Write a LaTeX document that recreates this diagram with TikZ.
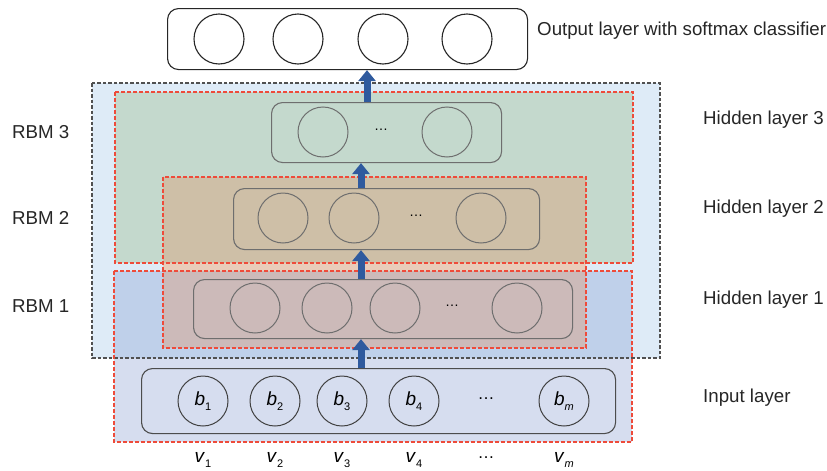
\documentclass[tikz,border=0pt]{standalone}
\usepackage{fontspec}
\setmainfont{Liberation Sans}
\usetikzlibrary{arrows.meta}
\definecolor{outerblue}{HTML}{DEEBF7}
\definecolor{rbmgreen}{HTML}{C4D9CD}
\definecolor{rbmtan}{HTML}{CEBFA7}
\definecolor{rbmpeach}{HTML}{E9CCBA}
\definecolor{rbmmauve}{HTML}{CCBAB9}
\definecolor{rbmblue}{HTML}{BFD0EA}
\definecolor{inpblue}{HTML}{D6DDEF}
\definecolor{reddash}{HTML}{EE4B3A}
\definecolor{graydash}{HTML}{505050}
\definecolor{arrowblue}{HTML}{2F5A9E}
\definecolor{arrowedge}{HTML}{5B7FBF}
\definecolor{boxgray}{HTML}{6E6E6E}
\tikzset{
  rbmframe/.style={draw=reddash, line width=1.1pt, dash pattern=on 4pt off 2pt},
  outerframe/.style={draw=graydash, line width=1.1pt, dash pattern=on 3.5pt off 2pt},
  layerbox/.style={draw=boxgray, line width=1.1pt, rounded corners=11pt, anchor=north west, inner sep=0pt},
  outbox/.style={draw=black!85, line width=1.1pt, rounded corners=11pt, anchor=north west, inner sep=0pt},
  neuron/.style={circle, draw=boxgray, line width=1pt, minimum size=50pt, inner sep=0pt},
  outneuron/.style={circle, draw=black!85, line width=1.1pt, minimum size=50pt, inner sep=0pt},
  inneuron/.style={circle, draw=black!75, line width=1pt, minimum size=50pt, inner sep=0pt, font=\fontsize{19}{20}\selectfont},
  dotsl/.style={font=\fontsize{14}{15}\selectfont, inner sep=0pt},
  vlab/.style={font=\fontsize{19}{20}\selectfont, inner sep=0pt},
  sidelab/.style={anchor=west, inner sep=0pt, font=\fontsize{18.7}{20}\selectfont, text=black!85},
  blockarrow/.style={draw=arrowblue, line width=7pt, -{Triangle[width=17pt,length=11pt]}}
}
\newcommand{\bsub}[2]{\textit{#1}\raisebox{-0.55ex}{\fontsize{11}{12}\selectfont #2}}
\begin{document}
\begin{tikzpicture}[x=1pt,y=-1pt]
\useasboundingbox (0,0) rectangle (827,471);
% region fills
\fill[outerblue] (92,83) rectangle (660,358);
\fill[rbmgreen] (115,92) rectangle (633,263);
\fill[inpblue] (114,358) rectangle (632,442);
\fill[rbmblue] (114,271) rectangle (632,358);
\fill[rbmtan] (163,177) rectangle (586,263);
\fill[rbmpeach] (163,263) rectangle (586,271);
\fill[rbmmauve] (163,271) rectangle (586,348);
% frames
\draw[outerframe] (92,83) rectangle (660,358);
\draw[rbmframe] (115,92) rectangle (633,263);
\draw[rbmframe] (114,271) rectangle (632,442);
\draw[rbmframe] (163,177) rectangle (586,348);

% output layer
\node[outbox, fill=white, minimum width=360pt, minimum height=61pt] (out) at (167,8) {};
\foreach \x/\n in {219/1,298/2,383/3,467/4}
  \node[outneuron] (o\n) at (\x,39) {};

% hidden layer 3
\node[layerbox, minimum width=230pt, minimum height=60pt] (h3) at (271,102) {};
\node[neuron] (h3a) at (323,132) {};
\node[dotsl] (h3d) at (381,130) {\dots};
\node[neuron] (h3b) at (447,132) {};

% hidden layer 2
\node[layerbox, minimum width=306pt, minimum height=61pt] (h2) at (233,188) {};
\node[neuron] (h2a) at (283,218) {};
\node[neuron] (h2b) at (354,218) {};
\node[dotsl] (h2d) at (416,216) {\dots};
\node[neuron] (h2c) at (481,218) {};

% hidden layer 1
\node[layerbox, minimum width=379pt, minimum height=59pt] (h1) at (193,279) {};
\node[neuron] (h1a) at (255,308) {};
\node[neuron] (h1b) at (327,308) {};
\node[neuron] (h1c) at (395,308) {};
\node[dotsl] (h1d) at (452,306) {\dots};
\node[neuron] (h1e) at (517,308) {};

% input layer
\node[layerbox, draw=black!70, minimum width=474pt, minimum height=65pt] (in) at (141,368) {};
\node[inneuron] (i1) at (203,401) {\bsub{b}{1}};
\node[inneuron] (i2) at (275,401) {\bsub{b}{2}};
\node[inneuron] (i3) at (342,401) {\bsub{b}{3}};
\node[inneuron] (i4) at (414,401) {\bsub{b}{4}};
\node[dotsl, font=\fontsize{17}{18}\selectfont] (id) at (486,399) {\dots};
\node[inneuron] (im) at (564,401) {\bsub{b}{\textit{m}}};

% v labels
\node[vlab] (v1) at (203,460) {\bsub{v}{1}};
\node[vlab] (v2) at (275,460) {\bsub{v}{2}};
\node[vlab] (v3) at (342,460) {\bsub{v}{3}};
\node[vlab] (v4) at (414,460) {\bsub{v}{4}};
\node[vlab, font=\fontsize{17}{18}\selectfont] (vd) at (486,458) {\dots};
\node[vlab] (vm) at (564,460) {\bsub{v}{\textit{m}}};

% arrows
\coordinate (ax1) at (361,0);
\coordinate (ax2) at (367,0);
\draw[blockarrow] (in.north -| ax1) -- (h1.south -| ax1);
\draw[blockarrow] (h1.north -| ax1) -- (h2.south -| ax1);
\draw[blockarrow] (h2.north -| ax1) -- (h3.south -| ax1);
\draw[blockarrow] (h3.north -| ax2) -- (out.south -| ax2);

% labels
\node[sidelab] (lout) at (537,31) {Output layer with softmax classifier};
\node[sidelab] (l3) at (703,120) {Hidden layer 3};
\node[sidelab] (l2) at (703,209) {Hidden layer 2};
\node[sidelab] (l1) at (703,300) {Hidden layer 1};
\node[sidelab] (lin) at (703,398) {Input layer};
\node[sidelab] (r3) at (12,132) {RBM 3};
\node[sidelab] (r2) at (12,218) {RBM 2};
\node[sidelab] (r1) at (12,306) {RBM 1};
\end{tikzpicture}
\end{document}
